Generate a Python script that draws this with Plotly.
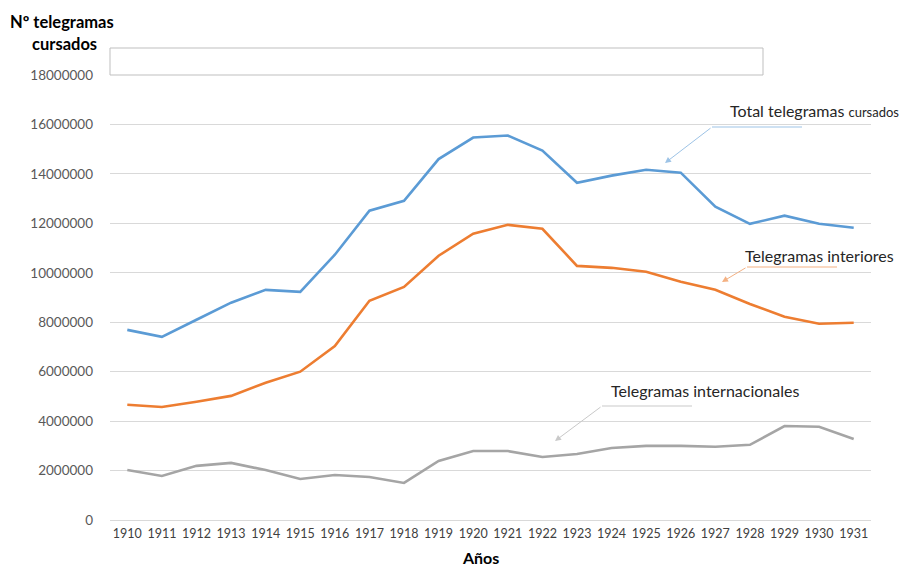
import plotly.graph_objects as go

years = ["1910", "1911", "1912", "1913", "1914", "1915", "1916", "1917", "1918", "1919", "1920",
         "1921", "1922", "1923", "1924", "1925", "1926", "1927", "1928", "1929", "1930", "1931"]

total = [7690000, 7410000, 8100000, 8790000, 9310000, 9230000, 10730000, 12510000, 12910000,
         14600000, 15470000, 15550000, 14940000, 13640000, 13930000, 14170000, 14050000,
         12670000, 11980000, 12310000, 11980000, 11820000]

interiores = [4660000, 4570000, 4780000, 5020000, 5550000, 6000000, 7040000, 8870000, 9430000,
              10690000, 11580000, 11940000, 11780000, 10280000, 10200000, 10040000, 9640000,
              9310000, 8740000, 8220000, 7940000, 7980000]

internacionales = [2020000, 1780000, 2190000, 2310000, 2020000, 1660000, 1820000, 1740000, 1500000,
                   2390000, 2790000, 2790000, 2550000, 2670000, 2910000, 3000000, 3000000,
                   2960000, 3040000, 3800000, 3770000, 3280000]

y_ticks = [0, 2000000, 4000000, 6000000, 8000000, 10000000, 12000000, 14000000, 16000000, 18000000]

FONT = "Lato"
OFF = 8  # page body margin
W, H = 909 - OFF, 566 - OFF
L, R, T, B = 110 - OFF, 38, 75 - OFF, 46
PW, PH = W - L - R, H - T - B


def px(x):
    return (x - OFF - L) / PW


def py(y):
    return (H - B - (y - OFF)) / PH


fig = go.Figure()
fig.add_trace(go.Scatter(x=years, y=total, mode="lines", name="Total",
                         line=dict(color="#5B9BD5", width=2.6)))
fig.add_trace(go.Scatter(x=years, y=interiores, mode="lines", name="Interiores",
                         line=dict(color="#ED7D31", width=2.6)))
fig.add_trace(go.Scatter(x=years, y=internacionales, mode="lines", name="Internacionales",
                         line=dict(color="#A5A5A5", width=2.6)))

shapes = []
annotations = []

# empty title box
shapes.append(dict(type="rect", xref="paper", yref="paper", x0=px(110), x1=px(763),
                   y0=py(75), y1=py(48), fillcolor="white",
                   line=dict(color="#BFBFBF", width=1), layer="above"))

# callouts: (text, text_x, text_y, hline x0, x1, y, tip x, tip y, color)
callouts = [
    ("Total telegramas <span style='font-size:13px'>cursados</span>", 728, 111, 712, 802, 127, 665, 163, "#9DC3E6"),
    ("Telegramas interiores", 743, 255, 747, 837, 267, 722, 282, "#F4B183"),
    ("Telegramas internacionales", 609, 390, 602, 692, 406, 555, 441, "#C9C9C9"),
]
for text, tx, ty, hx0, hx1, hy, ax_, ay_, col in callouts:
    annotations.append(dict(text=text, xref="paper", yref="paper", x=px(tx), y=py(ty),
                            xanchor="left", yanchor="middle", showarrow=False,
                            font=dict(family=FONT, size=16, color="#262626")))
    shapes.append(dict(type="line", xref="paper", yref="paper", x0=px(hx0), x1=px(hx1),
                       y0=py(hy), y1=py(hy), line=dict(color=col, width=1)))
    annotations.append(dict(text=" ", xref="paper", yref="paper", x=px(ax_), y=py(ay_),
                            ax=hx0 - ax_, ay=hy - ay_, showarrow=True, arrowhead=2,
                            arrowsize=1.2, arrowwidth=1, arrowcolor=col, standoff=0,
                            startstandoff=0, font=dict(size=1)))

# axis titles
annotations.append(dict(text="<b>Nº telegramas</b>", xref="paper", yref="paper", x=px(62), y=py(22),
                        xanchor="center", yanchor="middle", showarrow=False,
                        font=dict(family=FONT, size=16.5, color="#000000")))
annotations.append(dict(text="<b>cursados</b>", xref="paper", yref="paper", x=px(64), y=py(44),
                        xanchor="center", yanchor="middle", showarrow=False,
                        font=dict(family=FONT, size=16.5, color="#000000")))
annotations.append(dict(text="<b>Años</b>", xref="paper", yref="paper", x=px(480), y=py(557),
                        xanchor="center", yanchor="middle", showarrow=False,
                        font=dict(family=FONT, size=16, color="#000000")))

fig.update_layout(
    width=W, height=H,
    margin=dict(l=L, r=R, t=T, b=B),
    paper_bgcolor="white", plot_bgcolor="white",
    showlegend=False,
    shapes=shapes, annotations=annotations,
    font=dict(family=FONT, color="#404040"),
)
fig.update_xaxes(type="category", range=[-0.5, len(years) - 0.5], showgrid=False,
                 showline=True, linecolor="#D9D9D9", linewidth=1, ticks="",
                 tickfont=dict(family=FONT, size=12.5, color="#404040"), ticklabelstandoff=2)
fig.update_yaxes(range=[0, 18000000], tickvals=y_ticks, ticktext=[str(v) for v in y_ticks],
                 showgrid=True, gridcolor="#D9D9D9", gridwidth=1, zeroline=False,
                 showline=False, ticks="",
                 tickfont=dict(family=FONT, size=13.5, color="#595959"), ticklabelstandoff=16)

fig.write_html("out.html")
